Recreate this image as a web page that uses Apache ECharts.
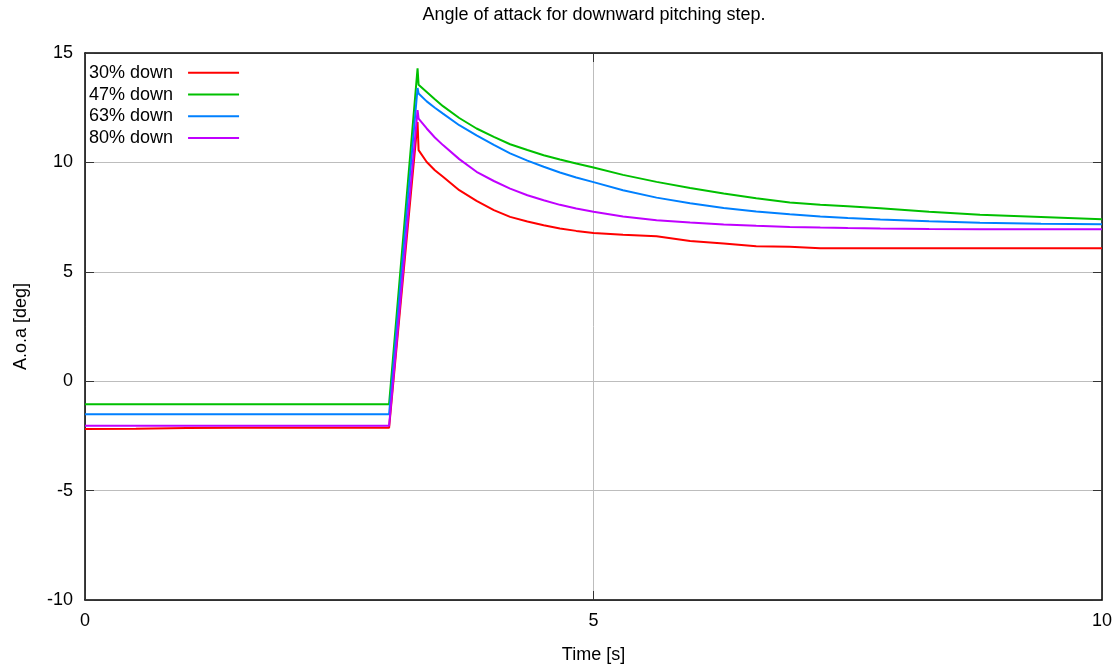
<!DOCTYPE html>
<html>
<head>
<meta charset="utf-8">
<script src="https://cdn.jsdelivr.net/npm/echarts@6/dist/echarts.min.js"></script>
<style>
  html, body { margin: 0; padding: 0; background: #ffffff; }
  #chart { width: 1120px; height: 670px; }
</style>
</head>
<body>
<div id="chart"></div>
<script>
// Time stamps [s] shared by all runs
const time = [0, 0.5, 1, 1.5, 2, 2.5, 2.99, 3.27, 3.28, 3.36, 3.44, 3.52, 3.68, 3.85, 4.02, 4.18, 4.35, 4.51, 4.67, 4.83, 5.0,
              5.29, 5.62, 5.95, 6.28, 6.6, 6.93, 7.23, 7.5, 7.82, 8.3, 8.8, 9.4, 10];

// Angle of attack [deg] per pitch-down fraction
const down30 = [-2.19, -2.17, -2.14, -2.13, -2.13, -2.13, -2.13, 11.85, 10.56, 10.02, 9.64, 9.34, 8.73, 8.24, 7.82, 7.51, 7.30, 7.13, 6.98, 6.87, 6.77,
                6.69, 6.63, 6.41, 6.29, 6.17, 6.14, 6.08, 6.08, 6.08, 6.08, 6.08, 6.08, 6.08];
const down47 = [-1.05, -1.05, -1.05, -1.05, -1.05, -1.05, -1.05, 14.3, 13.55, 13.22, 12.89, 12.57, 12.03, 11.55, 11.17, 10.83, 10.57, 10.33, 10.13, 9.95, 9.77,
                9.43, 9.11, 8.83, 8.58, 8.36, 8.17, 8.06, 8.0, 7.91, 7.75, 7.61, 7.5, 7.40];
const down63 = [-1.51, -1.51, -1.51, -1.51, -1.51, -1.51, -1.51, 13.4, 13.15, 12.79, 12.5, 12.23, 11.7, 11.24, 10.8, 10.41, 10.08, 9.8, 9.54, 9.31, 9.1,
                8.73, 8.39, 8.13, 7.92, 7.76, 7.63, 7.53, 7.46, 7.39, 7.31, 7.24, 7.2, 7.17];
const down80 = [-2.04, -2.04, -2.04, -2.04, -2.04, -2.04, -2.04, 12.39, 12.0, 11.55, 11.14, 10.79, 10.15, 9.57, 9.15, 8.8, 8.5, 8.27, 8.06, 7.89, 7.74,
                7.53, 7.36, 7.25, 7.16, 7.1, 7.05, 7.02, 7.0, 6.98, 6.96, 6.95, 6.94, 6.94];

const seriesNames = ['30% down', '47% down', '63% down', '80% down'];
const seriesValues = [down30, down47, down63, down80];
const seriesColors = ['#ff0000', '#00c000', '#0080ff', '#c000ff'];

const xTicks = { min: 0, max: 10, interval: 5 };
const yTicks = { min: -10, max: 15, interval: 5 };

const FONT = 'Liberation Sans, Arial, sans-serif';

const chart = echarts.init(document.getElementById('chart'), null, { renderer: 'canvas' });

const pairs = v => time.map((t, i) => [t, v[i]]);

const mirrorTick = { show: true, inside: true, length: 9, lineStyle: { color: '#333', width: 1 } };

chart.setOption({
  animation: false,
  backgroundColor: '#ffffff',
  title: {
    text: 'Angle of attack for downward pitching step.',
    left: 594,
    top: 6,
    padding: 0,
    textAlign: 'center',
    textStyle: { fontFamily: FONT, fontSize: 18, fontWeight: 'normal', color: '#000' }
  },
  legend: {
    orient: 'vertical',
    left: 89,
    top: 62,
    padding: 0,
    align: 'right',
    icon: 'rect',
    itemWidth: 51,
    itemHeight: 2,
    itemGap: 0,
    textStyle: { fontFamily: FONT, fontSize: 18, color: '#000', lineHeight: 21.7, padding: [0, 10, 0, 0] },
    data: seriesNames
  },
  grid: { left: 85, right: 18, top: 53, bottom: 70, containLabel: false },
  xAxis: [{
    type: 'value',
    position: 'bottom',
    min: xTicks.min, max: xTicks.max, interval: xTicks.interval,
    name: 'Time [s]',
    nameLocation: 'middle',
    nameGap: 46,
    nameTextStyle: { fontFamily: FONT, fontSize: 18, color: '#000' },
    axisLine: { show: true, onZero: false, lineStyle: { color: '#000', width: 1.5 } },
    axisTick: mirrorTick,
    axisLabel: { fontFamily: FONT, fontSize: 18, color: '#000', margin: 12 },
    splitLine: { show: true, lineStyle: { color: '#bdbdbd', width: 1 } }
  }, {
    type: 'value',
    position: 'top',
    min: xTicks.min, max: xTicks.max, interval: xTicks.interval,
    axisLine: { show: true, onZero: false, lineStyle: { color: '#000', width: 1.5 } },
    axisTick: mirrorTick,
    axisLabel: { show: false },
    splitLine: { show: false }
  }],
  yAxis: [{
    type: 'value',
    position: 'left',
    min: yTicks.min, max: yTicks.max, interval: yTicks.interval,
    name: 'A.o.a [deg]',
    nameLocation: 'middle',
    nameGap: 55,
    nameRotate: 90,
    nameTextStyle: { fontFamily: FONT, fontSize: 18, color: '#000' },
    axisLine: { show: true, onZero: false, lineStyle: { color: '#000', width: 1.5 } },
    axisTick: mirrorTick,
    axisLabel: { fontFamily: FONT, fontSize: 18, color: '#000', margin: 12 },
    splitLine: { show: true, lineStyle: { color: '#bdbdbd', width: 1 } }
  }, {
    type: 'value',
    position: 'right',
    min: yTicks.min, max: yTicks.max, interval: yTicks.interval,
    axisLine: { show: true, onZero: false, lineStyle: { color: '#000', width: 1.5 } },
    axisTick: mirrorTick,
    axisLabel: { show: false },
    splitLine: { show: false }
  }],
  series: seriesNames.map((name, i) => ({
    name,
    type: 'line',
    xAxisIndex: 0,
    yAxisIndex: 0,
    data: pairs(seriesValues[i]),
    smooth: false,
    showSymbol: false,
    symbol: 'none',
    color: seriesColors[i],
    lineStyle: { color: seriesColors[i], width: 2 },
    emphasis: { disabled: true }
  }))
});
</script>
</body>
</html>
